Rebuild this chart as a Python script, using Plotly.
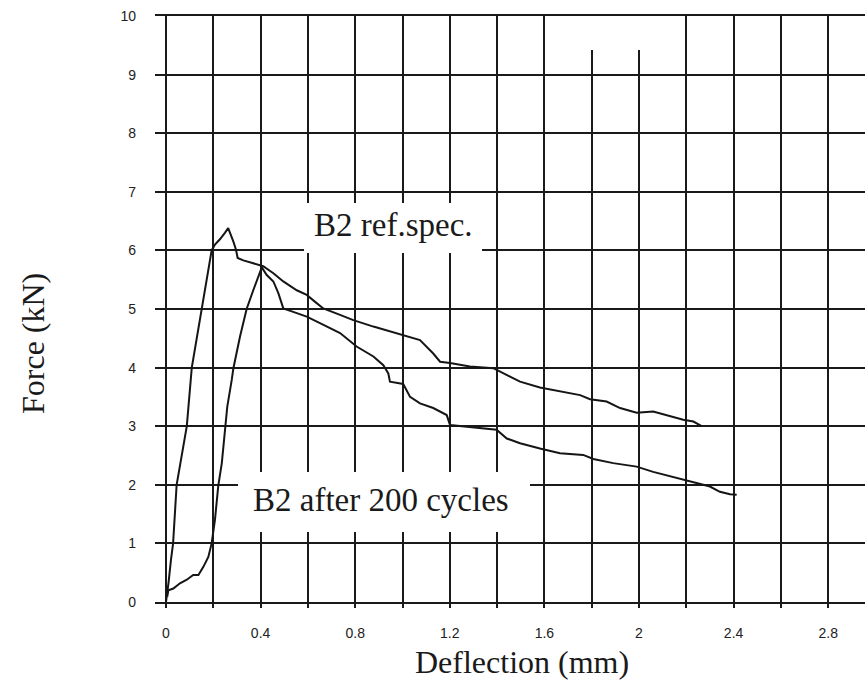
import plotly.graph_objects as go

# B2 reference specimen (deflection mm, force kN)
ref_x = [0.0, 0.002, 0.011, 0.021, 0.030, 0.045, 0.088, 0.109, 0.151, 0.193, 0.207, 0.228, 0.249, 0.263,
         0.285, 0.296, 0.303, 0.327, 0.369, 0.411, 0.454, 0.496, 0.553, 0.595, 0.637, 0.665, 0.736,
         0.792, 0.877, 1.003, 1.074, 1.130, 1.159, 1.201, 1.285, 1.384, 1.441, 1.497, 1.581, 1.666,
         1.751, 1.793, 1.863, 1.920, 1.990, 2.060, 2.117, 2.187, 2.230, 2.265]
ref_y = [0.0, 0.05, 0.34, 0.72, 1.00, 2.00, 3.00, 4.00, 5.00, 6.00, 6.10, 6.19, 6.30, 6.38,
         6.15, 6.01, 5.87, 5.83, 5.78, 5.73, 5.61, 5.47, 5.32, 5.24, 5.10, 5.01, 4.90,
         4.81, 4.70, 4.56, 4.47, 4.24, 4.10, 4.08, 4.02, 3.99, 3.87, 3.76, 3.66, 3.59,
         3.53, 3.46, 3.42, 3.31, 3.23, 3.25, 3.19, 3.11, 3.08, 3.00]

# B2 after 200 cycles
cyc_x = [0.005, 0.010, 0.031, 0.059, 0.088, 0.115, 0.137, 0.158, 0.179, 0.193, 0.207, 0.221, 0.236,
         0.249, 0.259, 0.278, 0.285, 0.313, 0.341, 0.369, 0.390, 0.405, 0.426, 0.454, 0.475, 0.496,
         0.538, 0.595, 0.651, 0.736, 0.806, 0.877, 0.919, 0.940, 0.947, 1.003, 1.032, 1.074, 1.130,
         1.187, 1.201, 1.257, 1.356, 1.398, 1.441, 1.497, 1.581, 1.666, 1.764, 1.807, 1.891, 1.990,
         2.060, 2.187, 2.243, 2.300, 2.342, 2.385, 2.413]
cyc_y = [0.09, 0.20, 0.23, 0.32, 0.38, 0.46, 0.46, 0.60, 0.77, 1.00, 1.40, 1.98, 2.37,
         2.99, 3.33, 3.79, 3.99, 4.53, 5.00, 5.32, 5.55, 5.71, 5.58, 5.47, 5.27, 5.01,
         4.95, 4.87, 4.76, 4.59, 4.36, 4.19, 4.04, 3.90, 3.76, 3.72, 3.50, 3.39, 3.31,
         3.19, 3.02, 3.00, 2.96, 2.94, 2.79, 2.71, 2.62, 2.54, 2.51, 2.44, 2.37, 2.31,
         2.22, 2.08, 2.03, 1.97, 1.88, 1.84, 1.83]

x_ticks = [0, 0.4, 0.8, 1.2, 1.6, 2.0, 2.4, 2.8]
x_labels = ["0", "0.4", "0.8", "1.2", "1.6", "2", "2.4", "2.8"]
y_ticks = list(range(0, 11))

label_ref = "B2 ref.spec."
label_cyc = "B2 after 200 cycles"

fig = go.Figure()
fig.add_trace(go.Scatter(x=ref_x, y=ref_y, mode="lines", name=label_ref,
                         line=dict(color="#151515", width=2)))
fig.add_trace(go.Scatter(x=cyc_x, y=cyc_y, mode="lines", name=label_cyc,
                         line=dict(color="#151515", width=2)))

grid_col = "#1a1a1a"
serif = "Liberation Serif, Times New Roman, serif"
sans = "Liberation Sans, Arial, sans-serif"

fig.update_layout(
    width=865, height=686,
    margin=dict(l=155, r=0, t=16, b=84),
    paper_bgcolor="white", plot_bgcolor="white",
    showlegend=False,
    font=dict(family=sans, color="#222", size=14),
    xaxis=dict(range=[-0.0465, 2.9556], tickvals=x_ticks, ticktext=x_labels,
               showgrid=True, gridcolor=grid_col, gridwidth=1.5,
               zeroline=True, zerolinecolor=grid_col, zerolinewidth=1.5,
               minor=dict(dtick=0.2, tick0=0, showgrid=True, gridcolor=grid_col, gridwidth=1.5,
                          ticks="outside", ticklen=4, tickcolor=grid_col, tickwidth=1.5),
               ticks="outside", ticklen=4, tickcolor=grid_col, tickwidth=1.5,
               ticklabelstandoff=13,
               showline=True, mirror=True, linecolor=grid_col, linewidth=1.5,
               tickfont=dict(family=sans, size=14, color="#222")),
    yaxis=dict(range=[0, 10], tickvals=y_ticks,
               showgrid=True, gridcolor=grid_col, gridwidth=1.5,
               zeroline=True, zerolinecolor=grid_col, zerolinewidth=1.5,
               ticks="", ticklabelstandoff=18, showline=False,
               tickfont=dict(family=sans, size=14, color="#222")),
)

def px2x(p):
    return (p - 166.0) / 236.5

def px2y(p):
    return (602.0 - p) / 58.6

# white scan patches behind the labels and at the top
patches = [(304, 482, 203, 253, "between"), (238, 530, 472, 532, "between"), (573, 647, 8, 50, "above")]
for x0, x1, y0, y1, layer in patches:
    fig.add_shape(type="rect", xref="x", yref="y", x0=px2x(x0), x1=px2x(x1), y0=px2y(y1), y1=px2y(y0),
                  fillcolor="white", line=dict(width=0), layer=layer)

fig.add_annotation(x=px2x(393), y=px2y(225), xref="x", yref="y", text=label_ref, showarrow=False,
                   font=dict(family=serif, size=33, color="#1a1a1a"))
fig.add_annotation(x=px2x(381), y=px2y(500), xref="x", yref="y", text=label_cyc, showarrow=False,
                   font=dict(family=serif, size=33, color="#1a1a1a"))

fig.add_annotation(x=(521.7 - 155) / 710, y=(602 - 662) / 586, xref="paper", yref="paper",
                   text="Deflection (mm)", showarrow=False, xanchor="center", yanchor="middle",
                   font=dict(family=serif, size=32, color="#1a1a1a"))
fig.add_annotation(x=(33 - 155) / 710, y=(602 - 344) / 586, xref="paper", yref="paper",
                   text="Force (kN)", showarrow=False, textangle=-90, xanchor="center", yanchor="middle",
                   font=dict(family=serif, size=32, color="#1a1a1a"))

fig.write_html("out.html")
